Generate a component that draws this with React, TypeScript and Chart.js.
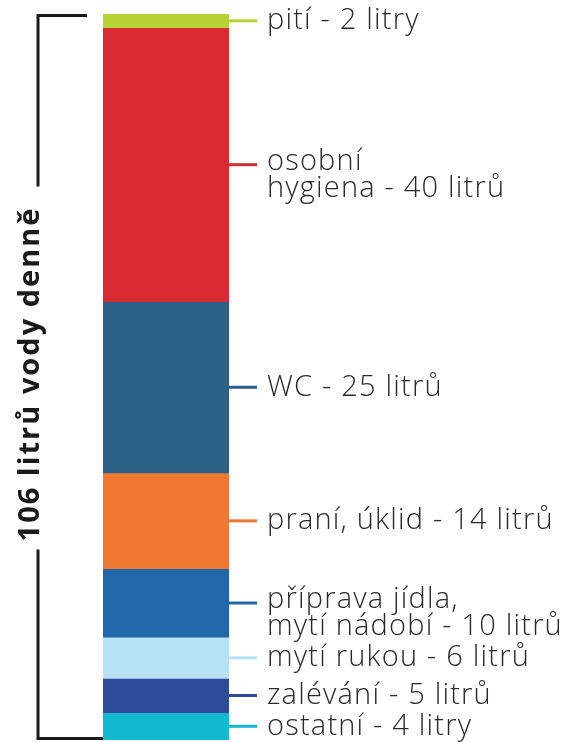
import React, { useEffect, useRef } from "react";
import { Chart, registerables } from "chart.js";

Chart.register(...registerables);

const categories: string[][] = [
  ["pití - 2 litry"],
  ["osobní", "hygiena - 40 litrů"],
  ["WC - 25 litrů"],
  ["praní, úklid - 14 litrů"],
  ["příprava jídla,", "mytí nádobí - 10 litrů"],
  ["mytí rukou - 6 litrů"],
  ["zalévání - 5 litrů"],
  ["ostatní - 4 litry"],
];
const values: number[] = [2, 40, 25, 14, 10, 6, 5, 4];
const colors: string[] = [
  "#b5d336",
  "#d92b31",
  "#2b6186",
  "#f07832",
  "#2068aa",
  "#b7e1f5",
  "#2e4a9a",
  "#13b9d0",
];
const totalLabel = "106 litrů vody denně";

const FONT = '"Open Sans", "Noto Sans", sans-serif';

const labelPlugin = {
  id: "sideLabels",
  afterDatasetsDraw(chart: any) {
    const ctx = chart.ctx as any;
    let top = Infinity;
    let bottom = -Infinity;
    let left = Infinity;
    chart.data.datasets.forEach((ds: any, i: number) => {
      const meta = chart.getDatasetMeta(i);
      const el: any = meta.data[0];
      if (!el) return;
      const y1 = Math.min(el.y, el.base);
      const y2 = Math.max(el.y, el.base);
      top = Math.min(top, y1);
      bottom = Math.max(bottom, y2);
      const right = el.x + el.width / 2;
      left = Math.min(left, el.x - el.width / 2);
      const cy = (y1 + y2) / 2;
      ctx.save();
      ctx.strokeStyle = ds.backgroundColor;
      ctx.lineWidth = 3;
      ctx.beginPath();
      ctx.moveTo(right, cy);
      ctx.lineTo(right + 28, cy);
      ctx.stroke();
      ctx.fillStyle = "#2a2a2a";
      ctx.font = `300 29px ${FONT}`;
      ctx.letterSpacing = "1.2px";
      ctx.textAlign = "left";
      ctx.textBaseline = "middle";
      const lines = ds.label as string[];
      const startY = lines.length > 1 ? cy - 3 : cy;
      lines.forEach((line: string, k: number) => {
        ctx.fillText(line, right + 38, startY + k * 27);
      });
      ctx.restore();
    });

    // bracket
    const bx = 38;
    const midY = (top + bottom) / 2 - 3;
    ctx.save();
    ctx.font = `bold 29px ${FONT}`;
    ctx.letterSpacing = "2px";
    const tw = ctx.measureText(totalLabel).width;
    ctx.strokeStyle = "#1a1a1a";
    ctx.lineWidth = 3;
    ctx.lineCap = "butt";
    ctx.beginPath();
    ctx.moveTo(87, top + 1.5);
    ctx.lineTo(bx, top + 1.5);
    ctx.lineTo(bx, midY - tw / 2 - 20);
    ctx.moveTo(bx, midY + tw / 2 + 8);
    ctx.lineTo(bx, bottom - 1.5);
    ctx.lineTo(left, bottom - 1.5);
    ctx.stroke();
    ctx.translate(bx - 7, midY);
    ctx.rotate(-Math.PI / 2);
    ctx.fillStyle = "#1a1a1a";
    ctx.textAlign = "center";
    ctx.textBaseline = "middle";
    ctx.fillText(totalLabel, 0, 0);
    ctx.restore();
  },
};

export default function App() {
  const ref = useRef<HTMLCanvasElement | null>(null);
  useEffect(() => {
    document.body.style.margin = "0";
    const canvas = ref.current;
    if (!canvas) return;
    const chart = new Chart(canvas, {
      type: "bar",
      data: {
        labels: [""],
        datasets: values.map((v, i) => ({
          label: categories[i] as any,
          data: [v],
          backgroundColor: colors[i],
          borderWidth: 0,
          barPercentage: 1,
          categoryPercentage: 1,
        })),
      },
      options: {
        animation: false,
        responsive: false,
        maintainAspectRatio: false,
        layout: { padding: { left: 103, right: 350, top: 14, bottom: 2 } },
        plugins: {
          legend: { display: false },
          tooltip: { enabled: false },
        },
        scales: {
          x: { display: false, stacked: true },
          y: { display: false, stacked: true, reverse: true, min: 0, max: 106 },
        },
      },
      plugins: [labelPlugin],
    });
    return () => chart.destroy();
  }, []);
  return (
    <div style={{ position: "fixed", left: 0, top: 0, width: 579, height: 742, background: "#fff" }}>
      <canvas ref={ref} width={579} height={742} style={{ display: "block" }} />
    </div>
  );
}
